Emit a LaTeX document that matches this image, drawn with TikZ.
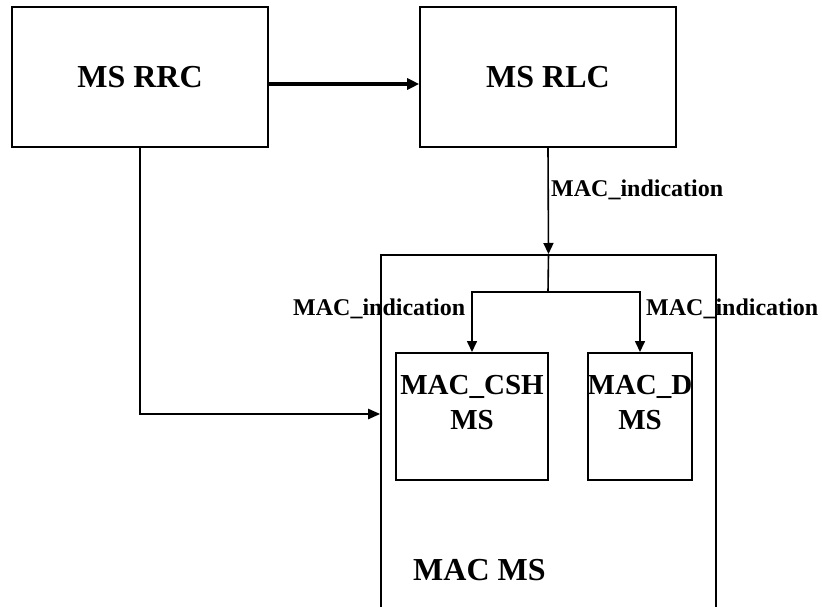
\documentclass[tikz,border=0pt]{standalone}
\usepackage{fontspec}
\setmainfont{Liberation Serif}
\usepackage{tikz}
\usetikzlibrary{arrows.meta,positioning,calc}

\tikzset{
  block/.style={draw, line width=1.6pt, rectangle, inner sep=0pt},
  bigtext/.style={font=\fontsize{32}{38}\selectfont\bfseries},
  midtext/.style={font=\fontsize{29}{35}\selectfont\bfseries, align=center},
  sigtext/.style={font=\fontsize{24}{28}\selectfont\bfseries, inner sep=0pt},
  sig/.style={line width=1.6pt, -{Triangle[length=11pt,width=10pt]}},
  sigline/.style={line width=1.6pt},
  ctrl/.style={line width=3.8pt, -{Triangle[length=12pt,width=11pt]}},
}

\begin{document}
\begin{tikzpicture}[x=1pt, y=-1pt]
      \clip (0,0) rectangle (822,606);
      \fill[white] (0,0) rectangle (822,606);

      % --- upper layer boxes ---
      \node[block, bigtext, minimum width=256pt, minimum height=140pt] (rrc) at (140,77) {MS RRC};
      \node[block, bigtext, minimum width=256pt, minimum height=140pt] (rlc) at (548,77) {MS RLC};

      % --- MAC MS (runs past the bottom edge) ---
      \node[block, minimum width=335pt, minimum height=400pt, anchor=north] (mac) at (548.5,254) {};
      \node[bigtext, anchor=base west, inner sep=0pt] (macname) at (413,580) {MAC MS};

      % --- MAC entities inside MAC MS ---
      \node[block, minimum width=152pt, minimum height=127pt, anchor=north] (csh) at (472,352) {};
      \node[midtext, anchor=north, inner sep=0pt] (cshname) at ([yshift=-23pt]csh.north) {MAC\_CSH\\MS};
      \node[block, minimum width=104pt, minimum height=127pt, anchor=north] (macd) at (640,352) {};
      \node[midtext, anchor=north, inner sep=0pt] (dname) at ([yshift=-23pt]macd.north) {MAC\_D\\MS};

      % RRC -> RLC
      \draw[ctrl] ([yshift=-7pt]rrc.east) -- ([yshift=-7pt]rlc.west);

      % RRC -> MAC MS
      \coordinate (macin) at (mac.west |- 0,414);
      \draw[line width=2.2pt, -{Triangle[length=12pt,width=10pt]}] (rrc.south) |- (macin);

      % RLC -> MAC MS -> CSH / D
      \draw[sig] (rlc.south) -- (mac.north);
      \node[sigtext, anchor=base west] (ind1) at (551,196) {MAC\_indication};
      \coordinate (split) at (548,292);
      \draw[sigline] (mac.north) -- (split);
      \draw[sig] (split) -| (csh.north);
      \draw[sig] (split) -| (macd.north);
      \node[sigtext, anchor=base west] (ind2) at (293,315) {MAC\_indication};
      \node[sigtext, anchor=base west] (ind3) at (646,315) {MAC\_indication};
\end{tikzpicture}
\end{document}
